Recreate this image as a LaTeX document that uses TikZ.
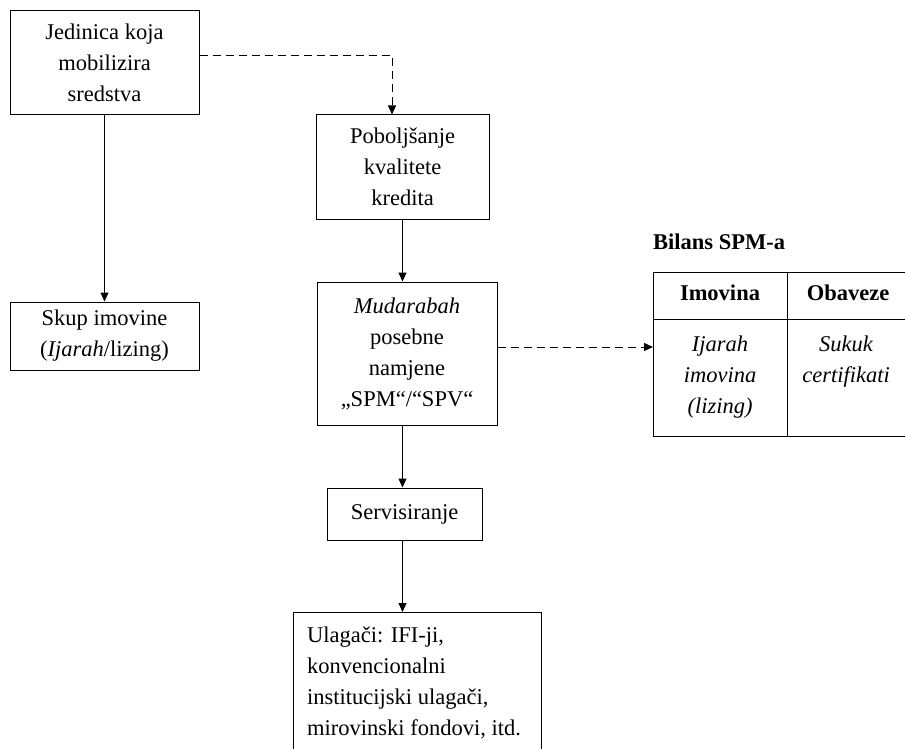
\documentclass[tikz,border=0pt]{standalone}
\usepackage{fontspec}
\setmainfont{Liberation Serif}
\usetikzlibrary{arrows.meta,calc}
\begin{document}
\begin{tikzpicture}[x=1pt,y=-1pt,
  font=\fontsize{22.5}{31}\selectfont,
  box/.style={draw,line width=1pt,inner sep=0pt,align=center},
  arr/.style={line width=1pt,-{Triangle[length=9pt,width=8pt]}},
  dsh/.style={line width=1pt,dash pattern=on 8pt off 5pt,-{Triangle[length=9pt,width=8pt]}},
  tline/.style={line width=1pt}]
\useasboundingbox (0,0) rectangle (905,749);
% boxes
\node[box,minimum width=189pt,minimum height=104pt] (A) at (104.5,63) {Jedinica koja\\mobilizira\\sredstva};
\node[box,minimum width=173pt,minimum height=104pt] (B) at (402.5,167) {Poboljšanje\\kvalitete\\kredita};
\node[box,minimum width=189pt,minimum height=68pt] (C) at (104.5,336) {Skup imovine\\(\textit{Ijarah}/lizing)};
\node[box,minimum width=180pt,minimum height=143pt] (D) at (407,353.5) {\textit{Mudarabah}\\posebne\\namjene\\„SPM“/“SPV“};
\node[box,minimum width=155pt,minimum height=52pt] (E) at (404.5,514) {Servisiranje};
% bottom box (cut off by the page edge)
\coordinate (Ftop) at (402.5,612);
\draw[tline] (293,749) -- (293,612) -- (541,612) -- (541,749);
\node[anchor=north west,inner sep=0pt,align=left] (F) at (307,627) {Ulagači: IFI-ji,\\konvencionalni\\institucijski ulagači,\\mirovinski fondovi, itd.};
% table
\node[font=\fontsize{22.5}{31}\selectfont\bfseries,anchor=west,inner sep=0pt] (title) at (653,242) {Bilans SPM-a};
\node[inner sep=0pt,minimum width=252pt,minimum height=164pt,anchor=north west] (T) at (653,272) {};
\draw[tline] (T.north east) -- (T.north west) -- (T.south west) -- (T.south east);
\draw[tline] (653,319) -- (905,319);
\draw[tline] (787,272) -- (787,436);
\node[font=\fontsize{22.5}{31}\selectfont\bfseries,inner sep=0pt] (h1) at (720,293) {Imovina};
\node[font=\fontsize{22.5}{31}\selectfont\bfseries,inner sep=0pt] (h2) at (848,293) {Obaveze};
\node[font=\fontsize{22.5}{31}\selectfont\itshape,anchor=north,inner sep=0pt,align=center] (c1) at (720,336) {Ijarah\\imovina\\(lizing)};
\node[font=\fontsize{22.5}{31}\selectfont\itshape,anchor=north,inner sep=0pt,align=center] (c2) at (846,336) {Sukuk\\certifikati};
% connectors
\draw[arr] (A.south) -- (C.north);
\draw[dsh] ([yshift=7pt]A.east) -| ([xshift=-10.5pt]B.north);
\draw[arr] (B.south) -- (B.south |- D.north);
\draw[dsh] ([yshift=6.5pt]D.east) -- ([yshift=6.5pt]D.east -| T.west);
\draw[arr] (D.south -| B.south) -- (E.north -| B.south);
\draw[arr] (E.south -| B.south) -- (Ftop);
\end{tikzpicture}
\end{document}
